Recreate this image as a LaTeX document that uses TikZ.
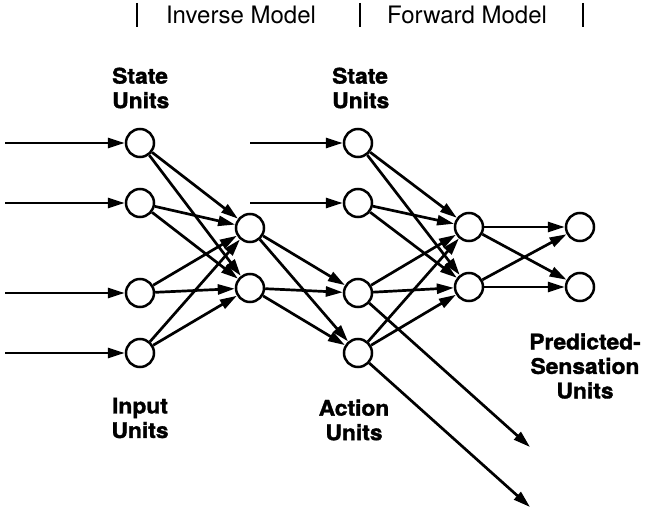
\documentclass[tikz,border=0pt]{standalone}
\usepackage{fontspec}
\setmainfont{TeX Gyre Heros}[BoldFeatures={FakeBold=1.6,FakeStretch=1.06}]
\usetikzlibrary{arrows.meta}
\begin{document}
\begin{tikzpicture}[x=1pt,y=-1pt,
  unit/.style={circle,draw,line width=2.5pt,minimum size=28pt,inner sep=0pt},
  conn/.style={line width=2.7pt,-{Triangle[length=17pt,width=10pt]}},
  lbl/.style={font=\bfseries\fontsize{21.5}{24.5}\selectfont,inner sep=0pt},
  hdr/.style={font=\fontsize{24}{28}\selectfont,inner sep=0pt},
  bar/.style={line width=2.5pt}]
\useasboundingbox[fill=white] (0,0) rectangle (646,511);
% header
\coordinate (b1t) at (137,3); \coordinate (b1b) at (137,27);
\coordinate (b2t) at (360,3); \coordinate (b2b) at (360,27);
\coordinate (b3t) at (583,3); \coordinate (b3b) at (583,27);
\draw[bar] (b1t) -- (b1b);
\draw[bar] (b2t) -- (b2b);
\draw[bar] (b3t) -- (b3b);
\node[hdr] (inv) at (241,15) {Inverse Model};
\node[hdr] (fwd) at (467,15) {Forward Model};
% units
\node[unit] (S1) at (140,143) {};
\node[unit] (S2) at (140,203) {};
\node[unit] (I1) at (140,293) {};
\node[unit] (I2) at (140,353) {};
\node[unit] (H1) at (250,228) {};
\node[unit] (H2) at (250,288) {};
\node[unit] (M1) at (358,143) {};
\node[unit] (M2) at (358,203) {};
\node[unit] (A1) at (358,293) {};
\node[unit] (A2) at (358,353) {};
\node[unit] (F1) at (469,227) {};
\node[unit] (F2) at (469,287) {};
\node[unit] (O1) at (580,227) {};
\node[unit] (O2) at (580,287) {};
% free ends
\coordinate (s1) at (5,143);
\coordinate (s2) at (5,203);
\coordinate (s3) at (5,293);
\coordinate (s4) at (5,353);
\coordinate (m1) at (250,143);
\coordinate (m2) at (250,203);
\coordinate (e1) at (530,447);
\coordinate (e2) at (530,507);
% input arrows
\draw[conn] (s1) -- (S1);
\draw[conn] (s2) -- (S2);
\draw[conn] (s3) -- (I1);
\draw[conn] (s4) -- (I2);
\draw[conn] (m1) -- (M1);
\draw[conn] (m2) -- (M2);
% inverse model
\foreach \a in {S1,S2,I1,I2}{
  \draw[conn] (\a) -- (H1);
  \draw[conn] (\a) -- (H2);
}
\foreach \a in {H1,H2}{
  \draw[conn] (\a) -- (A1);
  \draw[conn] (\a) -- (A2);
}
% forward model
\foreach \a in {M1,M2,A1,A2}{
  \draw[conn] (\a) -- (F1);
  \draw[conn] (\a) -- (F2);
}
\foreach \a in {F1,F2}{
  \draw[conn] (\a) -- (O1);
  \draw[conn] (\a) -- (O2);
}
\draw[conn] (A1) -- (e1);
\draw[conn] (A2) -- (e2);
% labels
\node[lbl,align=left,anchor=west] (lS) at (112,88) {State\\Units};
\node[lbl,align=left,anchor=west] (lM) at (332,88) {State\\Units};
\node[lbl,align=center] (lI) at (140,418) {Input\\Units};
\node[lbl,align=center] (lA) at (354,420) {Action\\Units};
\node[lbl,align=center] (lP) at (585,366) {Predicted-\\Sensation\\Units};
\end{tikzpicture}
\end{document}
